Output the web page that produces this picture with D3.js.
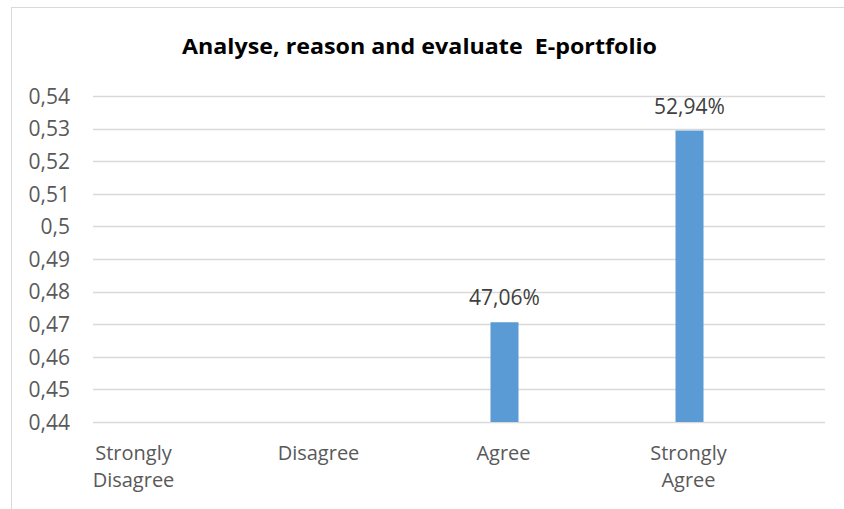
<!DOCTYPE html>
<html><head><meta charset="utf-8">
<script src="https://cdn.jsdelivr.net/npm/d3@7"></script>
<style>body{margin:0;background:#fff}svg{display:block}</style>
</head><body>
<script>
const title = "Analyse, reason and evaluate  E-portfolio";
const categories = [["Strongly","Disagree"],["Disagree"],["Agree"],["Strongly","Agree"]];
const catKeys = ["Strongly Disagree","Disagree","Agree","Strongly Agree"];
const values = [null, null, 0.4706, 0.5294];
const valueLabels = ["", "", "47,06%", "52,94%"];
const tickValues = [0.44,0.45,0.46,0.47,0.48,0.49,0.5,0.51,0.52,0.53,0.54];
const tickLabels = ["0,44","0,45","0,46","0,47","0,48","0,49","0,5","0,51","0,52","0,53","0,54"];

const W=844,H=509;
const svg=d3.select("body").append("svg").attr("width",W).attr("height",H);
const font="'Open Sans', sans-serif";
svg.append("rect").attr("x",11.5).attr("y",7.5).attr("width",W).attr("height",H+10)
  .attr("fill","#fff").attr("stroke","#d9d9d9").attr("stroke-width",1);

const y=d3.scaleLinear().domain([0.44,0.54]).range([422,96]);
const x=d3.scaleBand().domain(catKeys).range([41,781]);
const gx0=93,gx1=825;

svg.append("text").attr("x",419.5).attr("y",54).attr("text-anchor","middle")
  .attr("font-family",font).attr("font-weight","bold").attr("font-size",22)
  .attr("textLength",475).attr("lengthAdjust","spacingAndGlyphs")
  .attr("fill","#000").style("white-space","pre").text(title);

const yAxis=d3.axisLeft(y).tickValues(tickValues).tickSize(0).tickPadding(0)
  .tickFormat((d,i)=>tickLabels[i]);
const ga=svg.append("g").attr("transform","translate(70,0)").call(yAxis);
ga.select(".domain").remove();
ga.selectAll("text").attr("font-family",font).attr("font-size",21).attr("fill","#595959").attr("dy","0.35em");

svg.append("g").selectAll("line").data(tickValues).join("line")
  .attr("x1",gx0).attr("x2",gx1).attr("y1",d=>Math.round(y(d))+0.5).attr("y2",d=>Math.round(y(d))+0.5)
  .attr("stroke","#d9d9d9").attr("stroke-width",1.5);

const bw=28;
const data=catKeys.map((k,i)=>({k,v:values[i],l:valueLabels[i]})).filter(d=>d.v!=null);
svg.append("g").selectAll("rect").data(data).join("rect")
  .attr("x",d=>x(d.k)+x.bandwidth()/2-bw/2+1).attr("width",bw)
  .attr("y",d=>y(d.v)).attr("height",d=>y(0.44)-y(d.v))
  .attr("fill","#5b9bd5");
svg.append("g").selectAll("text").data(data).join("text")
  .attr("x",d=>x(d.k)+x.bandwidth()/2+1).attr("y",d=>y(d.v)-17)
  .attr("text-anchor","middle").attr("font-family",font).attr("font-size",21)
  .attr("fill","#404040").text(d=>d.l);

const gc=svg.append("g");
catKeys.forEach((k,i)=>{
  const t=gc.append("text").attr("x",x(k)+x.bandwidth()/2).attr("y",460)
    .attr("text-anchor","middle").attr("font-family",font).attr("font-size",20).attr("fill","#595959");
  categories[i].forEach((ln,j)=>t.append("tspan").attr("x",x(k)+x.bandwidth()/2).attr("dy",j?27:0).text(ln));
});
</script>
</body></html>
